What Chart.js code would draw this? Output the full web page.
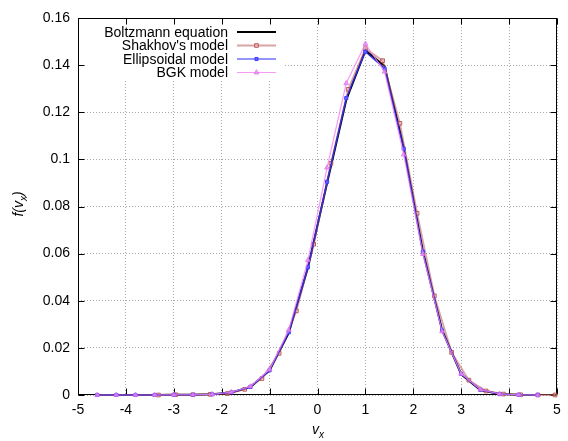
<!DOCTYPE html>
<html>
<head>
<meta charset="utf-8">
<script src="https://cdn.jsdelivr.net/npm/chart.js@4"></script>
<style>
  html, body { margin: 0; padding: 0; background: #fff; }
  #chart { display: block; }
</style>
</head>
<body>
<canvas id="chart" width="568" height="441"></canvas>
<script>
// tick labels
const xTicks = [-5, -4, -3, -2, -1, 0, 1, 2, 3, 4, 5];
const yTicks = [0, 0.02, 0.04, 0.06, 0.08, 0.1, 0.12, 0.14, 0.16];

// velocity grid shared by Boltzmann, ellipsoidal and BGK results
const gridX = [-4.6, -4.2, -3.8, -3.4, -3.0, -2.6, -2.2, -1.8, -1.4, -1.0, -0.6, -0.2,
               0.2, 0.6, 1.0, 1.4, 1.8, 2.2, 2.6, 3.0, 3.4, 3.8, 4.2, 4.6];
const boltzmann = [0, 0, 0, 0, 0.0001, 0.0001, 0.0003, 0.0011, 0.0034, 0.0104, 0.0264, 0.0540,
                   0.0900, 0.1252, 0.1462, 0.1396, 0.1050, 0.0610, 0.0276, 0.0088, 0.0021, 0.0004, 0.0001, 0];
const ellipsoidal = [0, 0, 0, 0, 0.0001, 0.0001, 0.0003, 0.0011, 0.0034, 0.0105, 0.0266, 0.0542,
                     0.0905, 0.1260, 0.1457, 0.1385, 0.1045, 0.0608, 0.0274, 0.0090, 0.0022, 0.0004, 0.0001, 0];
const bgk = [0, 0, 0, 0, 0.0001, 0.0001, 0.0003, 0.0012, 0.0036, 0.0108, 0.0276, 0.0572,
             0.0965, 0.1323, 0.1490, 0.1372, 0.1020, 0.0598, 0.0270, 0.0090, 0.0023, 0.0005, 0.0001, 0];

// Shakhov model uses its own grid
const shakhovX = [-3.32, -2.96, -2.60, -2.24, -1.88, -1.52, -1.16, -0.80, -0.44, -0.08, 0.28, 0.64,
                  1.00, 1.36, 1.72, 2.08, 2.44, 2.80, 3.16, 3.52, 3.88, 4.24, 4.60, 4.96];
const shakhov = [0, 0.0001, 0.0001, 0.0003, 0.0006, 0.0024, 0.0070, 0.0177, 0.0357, 0.0640, 0.0983, 0.1297,
                 0.1470, 0.1419, 0.1153, 0.0771, 0.0421, 0.0181, 0.0063, 0.0017, 0.0004, 0.0001, 0, 0];

const seriesNames = ['Boltzmann equation', "Shakhov's model", 'Ellipsoidal model', 'BGK model'];

const FONT = '"Liberation Sans", Arial, Helvetica, sans-serif';
const pts = (xs, ys) => xs.map((x, i) => ({ x: x, y: ys[i] }));

const datasets = [
  { label: seriesNames[0], data: pts(gridX, boltzmann), borderColor: '#000000', borderWidth: 2,
    pointRadius: 0, order: 4, clip: false },
  { label: seriesNames[1], data: pts(shakhovX, shakhov), borderColor: 'rgba(185,90,90,0.55)', borderWidth: 1.8,
    pointStyle: 'rect', pointRadius: 2.6, pointBorderWidth: 1,
    pointBorderColor: 'rgba(180,70,70,0.85)', pointBackgroundColor: 'rgba(235,180,180,0.5)', order: 3, clip: false },
  { label: seriesNames[2], data: pts(gridX, ellipsoidal), borderColor: '#2a2aff', borderWidth: 1.2,
    pointStyle: 'rect', pointRadius: 2.2, pointBorderWidth: 1,
    pointBorderColor: '#4040ff', pointBackgroundColor: '#6060ff', order: 2, clip: false },
  { label: seriesNames[3], data: pts(gridX, bgk), borderColor: 'rgba(245,130,245,0.8)', borderWidth: 1.2,
    pointStyle: 'triangle', pointRadius: 2.8, pointBorderWidth: 1,
    pointBorderColor: 'rgba(220,110,235,0.75)', pointBackgroundColor: 'rgba(230,140,240,0.7)', order: 1, clip: false }
];

// frame, inward ticks, gnuplot-like key and axis titles
const decor = {
  id: 'decor',
  beforeDatasetsDraw(chart) {
    const ctx = chart.ctx;
    const a = chart.chartArea;
    const sx = chart.scales.x, sy = chart.scales.y;
    const L = Math.round(a.left) + 0.5, R = Math.round(a.right) - 0.5;
    const T = Math.round(a.top) + 0.5, B = Math.round(a.bottom) - 0.5;
    ctx.save();
    // key background
    ctx.fillStyle = '#ffffff';
    ctx.fillRect(L + 0.5, T + 0.5, 204, 62);

    ctx.strokeStyle = '#000';
    ctx.lineWidth = 1;
    ctx.beginPath();
    xTicks.forEach(v => {
      const px = Math.round(sx.getPixelForValue(v)) + 0.5;
      ctx.moveTo(px, B); ctx.lineTo(px, B - 6);
      ctx.moveTo(px, T); ctx.lineTo(px, T + 6);
    });
    yTicks.forEach(v => {
      const py = Math.round(sy.getPixelForValue(v)) + 0.5;
      ctx.moveTo(L, py); ctx.lineTo(L + 6, py);
      ctx.moveTo(R, py); ctx.lineTo(R - 6, py);
    });
    ctx.stroke();
    ctx.strokeRect(L, T, R - L, B - T);
    ctx.restore();
  },
  afterDatasetsDraw(chart) {
    const ctx = chart.ctx;
    ctx.save();
    // key
    ctx.font = '14px ' + FONT;
    ctx.textAlign = 'right';
    ctx.textBaseline = 'middle';
    const rows = [32, 45.5, 59, 72.5];
    chart.data.datasets.forEach((ds, i) => {
      const y = rows[i];
      ctx.fillStyle = '#000';
      ctx.fillText(ds.label, 228, y + 1);
      ctx.strokeStyle = ds.borderColor;
      ctx.lineWidth = ds.borderWidth;
      ctx.beginPath();
      ctx.moveTo(237, y); ctx.lineTo(276, y);
      ctx.stroke();
      if (ds.pointRadius > 0) {
        ctx.fillStyle = ds.pointBackgroundColor;
        ctx.strokeStyle = ds.pointBorderColor;
        ctx.lineWidth = ds.pointBorderWidth;
        Chart.helpers.drawPoint(ctx, { pointStyle: ds.pointStyle, radius: ds.pointRadius, rotation: 0, borderWidth: ds.pointBorderWidth }, 256.5, y);
      }
    });

    // x title: v_x
    ctx.fillStyle = '#000';
    ctx.textAlign = 'left';
    ctx.textBaseline = 'alphabetic';
    ctx.font = 'italic 14px ' + FONT;
    let w1 = ctx.measureText('v').width;
    ctx.font = 'italic 10px ' + FONT;
    let w2 = ctx.measureText('x').width;
    let x0 = 318 - (w1 + w2) / 2;
    ctx.font = 'italic 14px ' + FONT;
    ctx.fillText('v', x0, 434);
    ctx.font = 'italic 10px ' + FONT;
    ctx.fillText('x', x0 + w1, 438);

    // y title: f(v_x)
    ctx.translate(23, 204);
    ctx.rotate(-Math.PI / 2);
    ctx.font = 'italic 14px ' + FONT;
    const p1 = 'f(v', p3 = ')';
    const a1 = ctx.measureText(p1).width, a3 = ctx.measureText(p3).width;
    ctx.font = 'italic 10px ' + FONT;
    const a2 = ctx.measureText('x').width;
    let s = -(a1 + a2 + a3) / 2;
    ctx.font = 'italic 14px ' + FONT;
    ctx.fillText(p1, s, 0);
    ctx.font = 'italic 10px ' + FONT;
    ctx.fillText('x', s + a1, 4);
    ctx.font = 'italic 14px ' + FONT;
    ctx.fillText(p3, s + a1 + a2, 0);
    ctx.restore();
  }
};

const gridOpts = { color: '#a8a8a8', lineWidth: 1, drawTicks: false };

new Chart(document.getElementById('chart'), {
  type: 'line',
  data: { datasets: datasets },
  options: {
    responsive: false,
    animation: false,
    layout: { padding: { top: 18, right: 11, left: 0, bottom: 0 } },
    elements: { line: { tension: 0 } },
    plugins: { legend: { display: false }, tooltip: { enabled: false } },
    scales: {
      x: {
        type: 'linear', min: -5, max: 5,
        afterBuildTicks: s => { s.ticks = xTicks.map(v => ({ value: v })); },
        afterFit: s => { s.height = 46; },
        grid: gridOpts,
        border: { display: false, dash: [1, 2] },
        ticks: { color: '#000', font: { size: 14, family: FONT }, padding: 7, maxRotation: 0, autoSkip: false,
                 callback: v => String(v) }
      },
      y: {
        type: 'linear', min: 0, max: 0.16,
        afterBuildTicks: s => { s.ticks = yTicks.map(v => ({ value: v })); },
        afterFit: s => { s.width = 78; },
        grid: gridOpts,
        border: { display: false, dash: [1, 2] },
        ticks: { color: '#000', font: { size: 14, family: FONT }, padding: 8, autoSkip: false,
                 callback: v => String(Number(v.toFixed(2))) }
      }
    }
  },
  plugins: [decor]
});
</script>
</body>
</html>
